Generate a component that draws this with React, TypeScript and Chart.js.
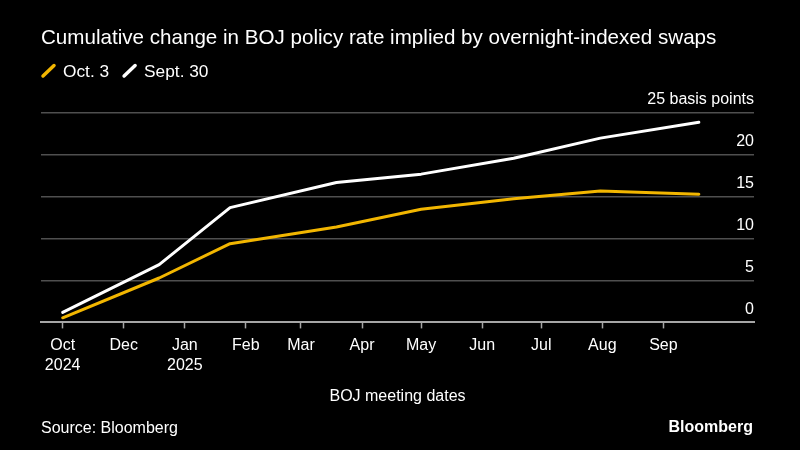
import React, { useEffect, useRef } from "react";
import { Chart, registerables } from "chart.js";

Chart.register(...registerables);

// ---- data ----
const meetingDates = [
  "2024-10-31",
  "2024-12-19",
  "2025-01-24",
  "2025-03-19",
  "2025-05-01",
  "2025-06-17",
  "2025-07-31",
  "2025-09-19",
];
const oct3Values = [0.55, 5.3, 9.4, 11.4, 13.5, 14.75, 15.7, 15.3];
const sept30Values = [1.2, 6.9, 13.7, 16.7, 17.7, 19.6, 22.0, 23.9];
const seriesNames = ["Oct. 3", "Sept. 30"];

const tickDates = [
  "2024-10-31",
  "2024-12-01",
  "2025-01-01",
  "2025-02-01",
  "2025-03-01",
  "2025-04-01",
  "2025-05-01",
  "2025-06-01",
  "2025-07-01",
  "2025-08-01",
  "2025-09-01",
];
const tickLabels: (string | string[])[] = [
  ["Oct", "2024"],
  "Dec",
  ["Jan", "2025"],
  "Feb",
  "Mar",
  "Apr",
  "May",
  "Jun",
  "Jul",
  "Aug",
  "Sep",
];
const axisStartDate = "2024-10-20";
const axisEndDate = "2025-10-17";
const yTicks = [0, 5, 10, 15, 20, 25];

const titleText = "Cumulative change in BOJ policy rate implied by overnight-indexed swaps";
const xAxisTitle = "BOJ meeting dates";
const sourceText = "Source: Bloomberg";
const brandText = "Bloomberg";

const YELLOW = "#f2b600";
const WHITE = "#ffffff";
const FONT = "'Liberation Sans', Arial, Helvetica, sans-serif";

const BASE = Date.UTC(2024, 9, 31);
function dayNum(s: string): number {
  const [y, m, d] = s.split("-").map(Number);
  return (Date.UTC(y, m - 1, d) - BASE) / 86400000;
}

const headerFooterPlugin = {
  id: "headerFooter",
  afterDraw(chart: any) {
    const ctx = chart.ctx as CanvasRenderingContext2D;
    ctx.save();
    ctx.fillStyle = WHITE;
    ctx.textBaseline = "alphabetic";
    // title
    ctx.font = `20.6px ${FONT}`;
    ctx.textAlign = "left";
    ctx.fillText(titleText, 41, 43.5);
    // legend
    ctx.font = `17.3px ${FONT}`;
    const ds = chart.data.datasets;
    let x = 42;
    ds.forEach((d: any) => {
      ctx.strokeStyle = d.borderColor;
      ctx.lineWidth = 3.5;
      ctx.lineCap = "round";
      ctx.beginPath();
      ctx.moveTo(x + 1, 76);
      ctx.lineTo(x + 12, 65.5);
      ctx.stroke();
      ctx.fillStyle = WHITE;
      ctx.fillText(d.label, x + 21, 77);
      const w = ctx.measureText(d.label).width;
      x += 21 + w + 14;
    });
    // footer
    ctx.font = `16px ${FONT}`;
    ctx.textAlign = "left";
    ctx.fillText(sourceText, 41, 433);
    ctx.font = `bold 16px ${FONT}`;
    ctx.textAlign = "right";
    ctx.fillText(brandText, 753, 432);
    ctx.restore();
  },
};

export default function App() {
  const canvasRef = useRef<HTMLCanvasElement | null>(null);

  useEffect(() => {
    const canvas = canvasRef.current;
    if (!canvas) return;
    const xs = meetingDates.map(dayNum);
    const tickDays = tickDates.map(dayNum);

    const chart = new Chart(canvas, {
      type: "line",
      data: {
        datasets: [
          {
            label: seriesNames[0],
            data: xs.map((x, i) => ({ x, y: oct3Values[i] })),
            borderColor: YELLOW,
            backgroundColor: YELLOW,
            borderWidth: 3,
            pointRadius: 0,
            tension: 0,
            borderCapStyle: "round",
            borderJoinStyle: "round",
          },
          {
            label: seriesNames[1],
            data: xs.map((x, i) => ({ x, y: sept30Values[i] })),
            borderColor: WHITE,
            backgroundColor: WHITE,
            borderWidth: 3,
            pointRadius: 0,
            tension: 0,
            borderCapStyle: "round",
            borderJoinStyle: "round",
          },
        ],
      },
      options: {
        responsive: false,
        animation: false,
        devicePixelRatio: 1,
        layout: { padding: { left: 41, right: 46, top: 113, bottom: 44 } },
        plugins: {
          legend: { display: false },
          title: { display: false },
          tooltip: { enabled: false },
        },
        scales: {
          x: {
            type: "linear",
            min: dayNum(axisStartDate),
            max: dayNum(axisEndDate),
            afterBuildTicks: (scale: any) => {
              scale.ticks = tickDays.map((v) => ({ value: v }));
            },
            grid: {
              display: true,
              drawOnChartArea: false,
              drawTicks: true,
              tickLength: 6,
              tickColor: "#a6a6a6",
              tickWidth: 1.5,
            },
            border: { display: true, color: "#a6a6a6", width: 2 },
            ticks: {
              autoSkip: false,
              maxRotation: 0,
              minRotation: 0,
              padding: 8,
              color: WHITE,
              font: { family: FONT, size: 16, lineHeight: 1.2 },
              callback: (_v: any, i: number) => tickLabels[i],
            },
            title: {
              display: true,
              text: xAxisTitle,
              color: WHITE,
              font: { family: FONT, size: 16, lineHeight: 1.2 },
              padding: { top: 4, bottom: 0 },
            },
          },
          y: {
            type: "linear",
            position: "right",
            min: 0,
            max: 25,
            afterBuildTicks: (scale: any) => {
              scale.ticks = yTicks.map((v) => ({ value: v }));
            },
            grid: {
              display: true,
              drawTicks: false,
              color: (c: any) => (c.tick && c.tick.value === 0 ? "rgba(0,0,0,0)" : "#4f4f4f"),
              lineWidth: 1.5,
            },
            border: { display: false },
            ticks: {
              mirror: true,
              padding: 0,
              labelOffset: -13,
              color: WHITE,
              font: { family: FONT, size: 16 },
              callback: (v: any) => (v === 25 ? "25 basis points" : String(v)),
            },
          },
        },
      },
      plugins: [headerFooterPlugin],
    } as any);

    return () => chart.destroy();
  }, []);

  return (
    <div
      style={{
        position: "fixed",
        left: 0,
        top: 0,
        width: 800,
        height: 450,
        background: "#000",
      }}
    >
      <canvas ref={canvasRef} width={800} height={450} style={{ display: "block" }} />
    </div>
  );
}
